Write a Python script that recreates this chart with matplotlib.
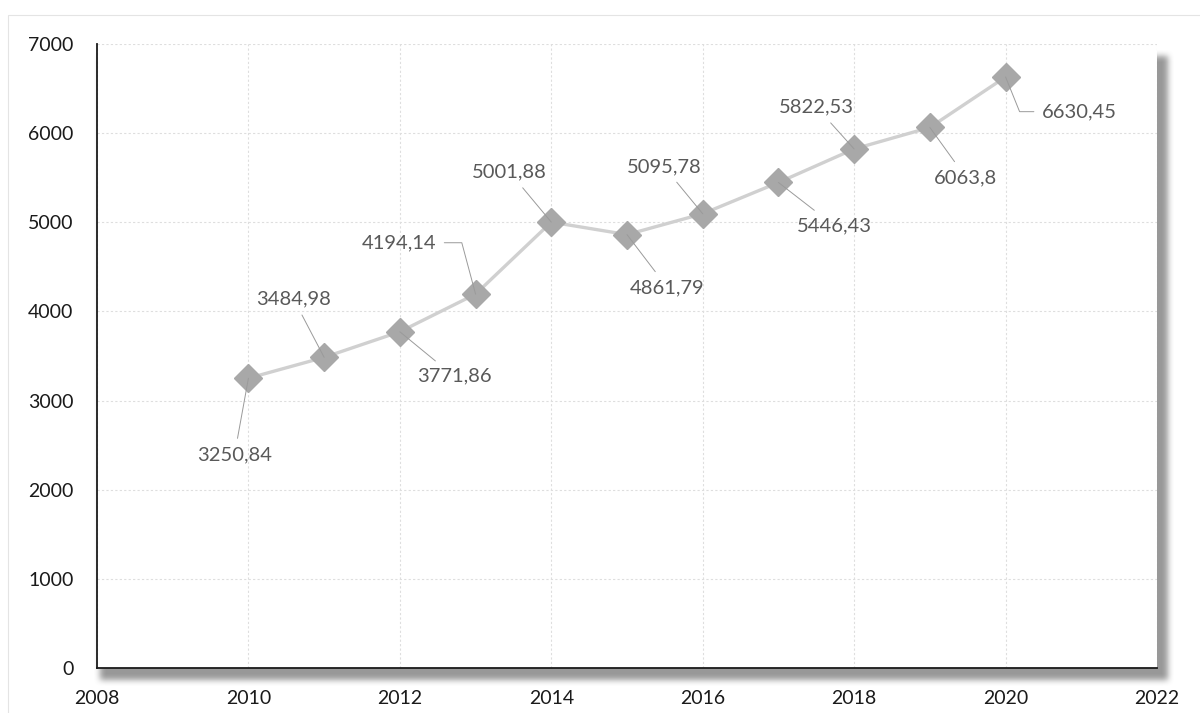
import numpy as np
import matplotlib
matplotlib.use('Agg')
import matplotlib.pyplot as plt
from matplotlib.patches import Rectangle

# Datos de la serie
years = [2010, 2011, 2012, 2013, 2014, 2015, 2016, 2017, 2018, 2019, 2020]
values = [3250.84, 3484.98, 3771.86, 4194.14, 5001.88, 4861.79,
          5095.78, 5446.43, 5822.53, 6063.8, 6630.45]
x_ticks = list(range(2008, 2023, 2))
y_ticks = list(range(0, 7001, 1000))

# desplazamiento de cada etiqueta (puntos) y estilo de la linea guia
label_offsets = [(-10, -55), (-22, 42), (39, -32), (-55, 37), (-30, 36), (29, -38),
                 (-28, 34), (40, -31), (-27, 30), (26, -36), (53, -25)]
label_conn = {3: 'angle,angleA=0,angleB=105,rad=0',
              10: 'angle,angleA=0,angleB=-68,rad=0'}

W, H = 1200, 713
plt.rcParams['font.family'] = ['Lato', 'DejaVu Sans']

fig = plt.figure(figsize=(W / 100, H / 100), dpi=100)
ax = fig.add_axes([97 / W, 1 - 668 / H, (1157 - 97) / W, (668 - 44) / H])

# marco tenue alrededor del grafico
fig.patches.append(Rectangle((8 / W, -0.1), 1.2, 1 - 15 / H + 0.1, transform=fig.transFigure,
                             fill=False, ec='#e4e4e4', lw=0.8, zorder=-2))

# sombra difuminada del area de trazado
pos = ax.get_position()
sh = np.zeros((H, W))
x0, x1 = int(pos.x0 * W) + 4, int(pos.x1 * W) + 11
y0, y1 = H - int(pos.y1 * H) + 12, H - int(pos.y0 * H) + 12
sh[y0:y1, x0:x1] = 1.0
k = 3
for _ in range(2):
    for axis in (0, 1):
        sh = sum(np.roll(sh, s, axis=axis) for s in range(-k, k + 1)) / (2 * k + 1)
rgba = np.zeros((H, W, 4))
rgba[..., :3] = 0.5
rgba[..., 3] = sh * 0.8
fig.figimage(rgba, 0, 0, origin='upper', zorder=-1)

ax.plot(years, values, color='#d0d0d0', lw=2.4, zorder=2,
        marker='D', markersize=14, markerfacecolor='#a8a8a8', markeredgecolor='#a8a8a8')

for i, (yr, v) in enumerate(zip(years, values)):
    txt = str(v).replace('.', ',')
    ax.annotate(txt, xy=(yr, v), xytext=label_offsets[i], textcoords='offset points',
                ha='center', va='center', fontsize=14.5, color='#595959', zorder=4,
                bbox=dict(boxstyle='square,pad=0.25', fc='none', ec='none'),
                arrowprops=dict(arrowstyle='-', color='#9a9a9a', lw=0.7,
                                shrinkA=2, shrinkB=0,
                                connectionstyle=label_conn.get(i, 'arc3')))

ax.set_xlim(2008, 2022)
ax.set_ylim(0, 7000)
ax.set_xticks(x_ticks)
ax.set_yticks(y_ticks)
ax.grid(True, color='#dedede', lw=0.8, linestyle=(0, (2, 2)))
ax.set_axisbelow(True)

for side in ['top', 'right']:
    ax.spines[side].set_visible(False)
ax.spines['left'].set_color('#1a1a1a')
ax.spines['bottom'].set_color('#1a1a1a')
ax.spines['left'].set_linewidth(1.3)
ax.spines['bottom'].set_linewidth(1.3)
ax.tick_params(axis='both', length=0, labelsize=14, labelcolor='#1a1a1a')
ax.tick_params(axis='y', pad=17)
ax.tick_params(axis='x', pad=16)

plt.savefig('out.png', dpi=100)
